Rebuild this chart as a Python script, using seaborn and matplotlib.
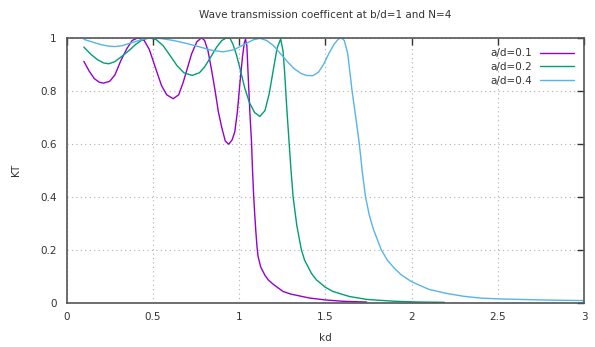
import numpy as np
import pandas as pd
import matplotlib
matplotlib.use("Agg")
import matplotlib.pyplot as plt
import seaborn as sns

# Values
kd_01 = [0.10, 0.13, 0.16, 0.19, 0.215, 0.25, 0.28, 0.315, 0.35, 0.38, 0.414, 0.45, 0.48,
         0.516, 0.55, 0.58, 0.618, 0.65, 0.675, 0.70, 0.725, 0.755, 0.782, 0.80, 0.82,
         0.84, 0.861, 0.88, 0.90, 0.92, 0.94, 0.96, 0.975, 0.99, 1.005, 1.02, 1.03, 1.037,
         1.045, 1.056, 1.064, 1.072, 1.078, 1.084, 1.09, 1.097, 1.104, 1.11, 1.125, 1.15,
         1.17, 1.20, 1.255, 1.30, 1.41, 1.50, 1.60, 1.74]
kt_01 = [0.911, 0.875, 0.846, 0.832, 0.829, 0.836, 0.860, 0.915, 0.960, 0.990, 1.000, 0.990, 0.955,
         0.885, 0.820, 0.785, 0.770, 0.785, 0.830, 0.885, 0.940, 0.985, 1.000, 0.990, 0.950,
         0.880, 0.800, 0.720, 0.660, 0.610, 0.598, 0.615, 0.645, 0.720, 0.830, 0.930, 0.980, 0.995,
         0.970, 0.810, 0.700, 0.606, 0.500, 0.410, 0.340, 0.270, 0.210, 0.175, 0.135, 0.103,
         0.085, 0.068, 0.042, 0.032, 0.017, 0.010, 0.005, 0.002]

kd_02 = [0.10, 0.14, 0.18, 0.215, 0.244, 0.28, 0.32, 0.36, 0.40, 0.44, 0.48, 0.52, 0.56,
         0.604, 0.64, 0.68, 0.728, 0.77, 0.80, 0.837, 0.87, 0.90, 0.925, 0.946, 0.965,
         0.985, 1.005, 1.033, 1.06, 1.09, 1.12, 1.15, 1.175, 1.20, 1.22, 1.241, 1.255,
         1.264, 1.276, 1.289, 1.30, 1.313, 1.335, 1.361, 1.38, 1.42, 1.448, 1.50, 1.544,
         1.64, 1.74, 1.90, 2.05, 2.19]
kt_02 = [0.965, 0.938, 0.917, 0.905, 0.902, 0.910, 0.930, 0.951, 0.975, 0.993, 1.000, 0.993, 0.970,
         0.929, 0.895, 0.868, 0.858, 0.868, 0.890, 0.929, 0.965, 0.990, 0.999, 1.000, 0.975,
         0.935, 0.885, 0.810, 0.755, 0.718, 0.703, 0.725, 0.790, 0.885, 0.960, 0.996, 0.950,
         0.870, 0.740, 0.614, 0.510, 0.400, 0.290, 0.200, 0.160, 0.110, 0.086, 0.058, 0.042,
         0.023, 0.012, 0.005, 0.002, 0.001]

kd_04 = [0.10, 0.15, 0.20, 0.24, 0.28, 0.32, 0.37, 0.42, 0.46, 0.495, 0.55, 0.62, 0.70, 0.77,
         0.84, 0.907, 0.97, 1.04, 1.08, 1.12, 1.16, 1.20, 1.24, 1.28, 1.32, 1.36, 1.39,
         1.428, 1.46, 1.49, 1.52, 1.55, 1.575, 1.592, 1.61, 1.63, 1.656, 1.679, 1.698,
         1.715, 1.733, 1.755, 1.78, 1.824, 1.86, 1.90, 1.94, 2.00, 2.10, 2.20, 2.30, 2.40,
         2.50, 2.75, 3.00]
kt_04 = [0.994, 0.984, 0.974, 0.969, 0.967, 0.970, 0.980, 0.990, 0.997, 1.000, 0.997, 0.990, 0.978, 0.966,
         0.953, 0.947, 0.955, 0.978, 0.992, 0.998, 0.990, 0.970, 0.940, 0.910, 0.883, 0.865, 0.858,
         0.857, 0.870, 0.900, 0.940, 0.975, 0.995, 1.000, 0.990, 0.940, 0.795, 0.689, 0.595,
         0.490, 0.400, 0.330, 0.275, 0.200, 0.160, 0.130, 0.105, 0.079, 0.050, 0.035, 0.024, 0.017,
         0.014, 0.010, 0.0075]

labels = ["a/d=0.1", "a/d=0.2", "a/d=0.4"]
colors = ["#9400d3", "#009e73", "#56b4e9"]

x_ticks = [0, 0.5, 1, 1.5, 2, 2.5, 3]
x_tick_labels = ["0", "0.5", "1", "1.5", "2", "2.5", "3"]
y_ticks = [0, 0.2, 0.4, 0.6, 0.8, 1]
y_tick_labels = ["0", "0.2", "0.4", "0.6", "0.8", "1"]

df = pd.concat([
    pd.DataFrame({"kd": kd_01, "KT": kt_01, "series": labels[0]}),
    pd.DataFrame({"kd": kd_02, "KT": kt_02, "series": labels[1]}),
    pd.DataFrame({"kd": kd_04, "KT": kt_04, "series": labels[2]}),
], ignore_index=True)

sns.set_style("white")
plt.rcParams["font.family"] = ["DejaVu Sans"]

fig = plt.figure(figsize=(5.95, 3.47), dpi=100)
ax = fig.add_axes([0.112, 0.128, 0.8695, 0.763])

sns.lineplot(data=df, x="kd", y="KT", hue="series", palette=colors,
             estimator=None, sort=False, linewidth=1.0, ax=ax)

ax.set_xlim(0, 3)
ax.set_ylim(0, 1)
ax.set_xticks(x_ticks)
ax.set_xticklabels(x_tick_labels)
ax.set_yticks(y_ticks)
ax.set_yticklabels(y_tick_labels)
ax.tick_params(direction="in", length=5, width=1, labelsize=7.5, colors="#333333",
               top=True, right=True, pad=7)
ax.grid(True, linestyle=(0, (1, 3)), color="#b0b0b0", linewidth=0.8)

for spine in ax.spines.values():
    spine.set_color("#555555")
    spine.set_linewidth(1.2)

ax.set_xlabel("kd", fontsize=7.5, color="#333333", labelpad=8)
ax.set_ylabel("KT", fontsize=7.5, color="#333333", labelpad=14)
ax.set_title("Wave transmission coefficent at b/d=1 and N=4", fontsize=7.5,
             color="#333333", pad=14)

leg = ax.legend(loc="upper right", frameon=False, markerfirst=False, fontsize=7.5,
                handlelength=3.2, labelspacing=0.35, borderaxespad=0.6)
for t in leg.get_texts():
    t.set_color("#333333")

fig.savefig("out.png", dpi=100)
